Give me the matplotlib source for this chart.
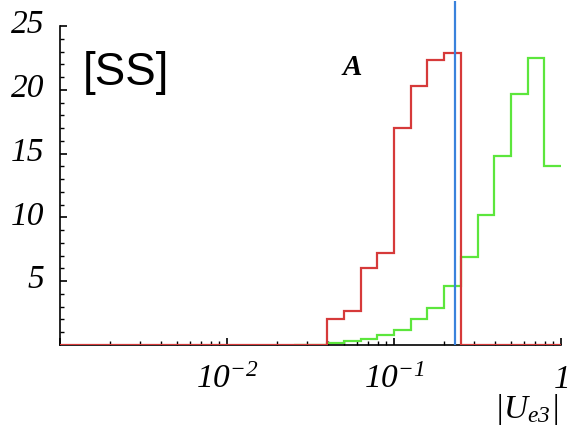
import numpy as np
import matplotlib
matplotlib.use("Agg")
import matplotlib.pyplot as plt
from matplotlib.ticker import FixedLocator, NullFormatter
from matplotlib.transforms import ScaledTranslation

plt.rcParams['mathtext.fontset'] = 'custom'
plt.rcParams['mathtext.rm'] = 'Liberation Serif:italic'
plt.rcParams['mathtext.it'] = 'Liberation Serif:italic'
plt.rcParams['mathtext.bf'] = 'Liberation Serif:italic:bold'

# ---- data (log10 bin edges and counts) ----
red_log_edges = [-3.0, -1.4, -1.3, -1.2, -1.1, -1.0, -0.9, -0.8, -0.7, -0.6, 0.0]
red_counts = [0, 2.0, 2.7, 6.0, 7.2, 17.0, 20.3, 22.3, 22.9, 0]

green_log_edges = [-1.6, -1.5, -1.4, -1.3, -1.2, -1.1, -1.0, -0.9, -0.8, -0.7,
                   -0.6, -0.5, -0.4, -0.3, -0.2, -0.1, 0.0]
green_counts = [0, 0, 0.15, 0.3, 0.5, 0.75, 1.2, 2.0, 2.9, 4.6,
                6.9, 10.2, 14.8, 19.7, 22.5, 14.0]

blue_line_x = 0.232

x_major = [1e-3, 1e-2, 1e-1, 1]
x_major_labels = ['', r'$10^{-2}$', r'$10^{-1}$', r'$1$']
y_major = [5, 10, 15, 20, 25]
y_major_labels = ['5', '10', '15', '20', '25']

red_c = '#d63a3a'
green_c = '#5ce63c'
blue_c = '#3a82dc'

fig = plt.figure(figsize=(5.69, 4.31), dpi=100)
ax = fig.add_axes([60/569, (431-346)/431, 501/569, 344.5/431])

red_edges = 10 ** np.array(red_log_edges)
green_edges = 10 ** np.array(green_log_edges)

ax.stairs(red_counts, red_edges, color=red_c, lw=1.6, zorder=3, baseline=None)
ax.stairs(green_counts, green_edges, color=green_c, lw=1.6, zorder=2, baseline=None)
ax.axvline(blue_line_x, color=blue_c, lw=1.6, zorder=4)

ax.set_xscale('log')
ax.set_xlim(1e-3, 1)
ax.set_ylim(0, 27)

for s in ['top', 'right']:
    ax.spines[s].set_visible(False)
ax.spines['left'].set_bounds(0, 25)
ax.spines['left'].set_linewidth(1.2)
ax.spines['bottom'].set_linewidth(1.2)

# x ticks
ax.xaxis.set_major_locator(FixedLocator(x_major))
ax.set_xticklabels(x_major_labels)
minors = [m * 10.0**d for d in (-3, -2, -1) for m in range(2, 10)]
ax.xaxis.set_minor_locator(FixedLocator(minors))
ax.xaxis.set_minor_formatter(NullFormatter())
ax.tick_params(axis='x', which='major', direction='in', length=5, width=1.2,
               labelsize=24, pad=30)
ax.tick_params(axis='x', which='minor', direction='in', length=3, width=1.0)
for lab in ax.get_xticklabels():
    lab.set_va('baseline')

# y ticks
ax.yaxis.set_major_locator(FixedLocator(y_major))
ax.set_yticklabels(y_major_labels)
ax.yaxis.set_minor_locator(FixedLocator([v for v in range(1, 25) if v % 5 != 0]))
ax.tick_params(axis='y', which='major', direction='in', length=5, width=1.2,
               labelsize=24, pad=11)
ax.tick_params(axis='y', which='minor', direction='in', length=3, width=1.0)
off = ScaledTranslation(0, 4/72, fig.dpi_scale_trans)
for lab in ax.get_yticklabels():
    lab.set_fontfamily('Liberation Serif')
    lab.set_fontstyle('italic')
    lab.set_transform(lab.get_transform() + off)

ax.text(0.046, 0.792, '[SS]', transform=ax.transAxes, fontsize=33,
        family='Liberation Sans', ha='left', va='center')
ax.text(0.583, 0.807, 'A', transform=ax.transAxes, fontsize=21,
        family='Liberation Serif', style='italic', weight='bold',
        ha='center', va='center')
fig.text(526/569, 1 - 410/431, r'$|U_{e3}|$', fontsize=24,
         ha='center', va='center')

fig.savefig('out.png', dpi=100)
